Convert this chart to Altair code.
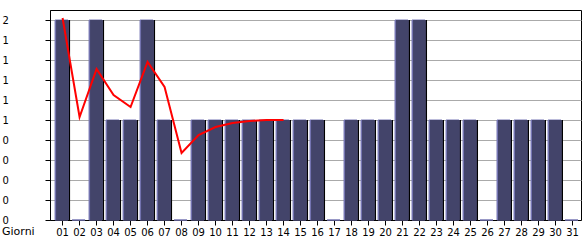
import altair as alt
import pandas as pd

days = [f"{d:02d}" for d in range(1, 32)]
values = [2, 0, 2, 1, 1, 2, 1, 0, 1, 1, 1, 1, 1, 1, 1, 1, 0, 1, 1, 1, 2, 2, 1, 1, 1, 0, 1, 1, 1, 1, 0]
trend_days = days[:14]
trend_values = [2.02, 1.03, 1.51, 1.25, 1.13, 1.58, 1.33, 0.67, 0.85, 0.93, 0.97, 0.99, 1.0, 1.0]
y_ticks = [0, 0.2, 0.4, 0.6, 0.8, 1.0, 1.2, 1.4, 1.6, 1.8, 2.0]

bars = pd.DataFrame({"day": days, "value": values})
trend = pd.DataFrame({"day": trend_days, "value": trend_values})

FONT = "DejaVu Sans"

xscale = alt.Scale(type="band", domain=days, paddingInner=0, paddingOuter=0.12, align=1)
yscale = alt.Scale(domain=[0, 2.1], nice=False, zero=True)

xax = alt.Axis(title=None, labelAngle=0, labelFont=FONT, labelFontSize=10, labelColor="black",
               domainColor="black", tickColor="black", tickSize=5, labelPadding=2, grid=False,
               labelBaseline="top")
yax = alt.Axis(title=None, values=y_ticks, labelExpr="floor(datum.value)", labelFont=FONT,
               labelFontSize=10, labelColor="black", labelAlign="left", labelBaseline="middle",
               labelPadding=43, tickSize=5, tickColor="black", domainColor="black",
               grid=True, gridColor="#AAAAAA", gridWidth=1)

X = alt.X("day:N", scale=xscale, axis=xax)
Y = alt.Y("value:Q", scale=yscale, axis=yax)

shadow = alt.Chart(bars).mark_bar(size=15, color="black")
edge = alt.Chart(bars).mark_bar(size=13, xOffset=-1, fill="#7676B4", stroke="#7676B4", strokeWidth=1)
body = alt.Chart(bars).mark_bar(size=12, xOffset=-0.5, color="#43446A")
line = alt.Chart(trend).mark_line(color="#FF0000", strokeWidth=2)

base = alt.layer(shadow, edge, body, line).encode(x=X, y=Y)

label = alt.Chart(pd.DataFrame({"t": ["Giorni"]})).mark_text(
    align="left", baseline="middle", font=FONT, fontSize=11, color="black"
).encode(text="t:N", x=alt.value(-48), y=alt.value(222))

chart = alt.layer(base, label).properties(
    width=531, height=210,
    autosize=alt.AutoSizeParams(type="none"),
    padding={"left": 50, "top": 10, "right": 4, "bottom": 20},
    background="white",
).configure_view(stroke="black", strokeWidth=1)

chart.save("out.html", embed_options={"renderer": "svg", "actions": False})
